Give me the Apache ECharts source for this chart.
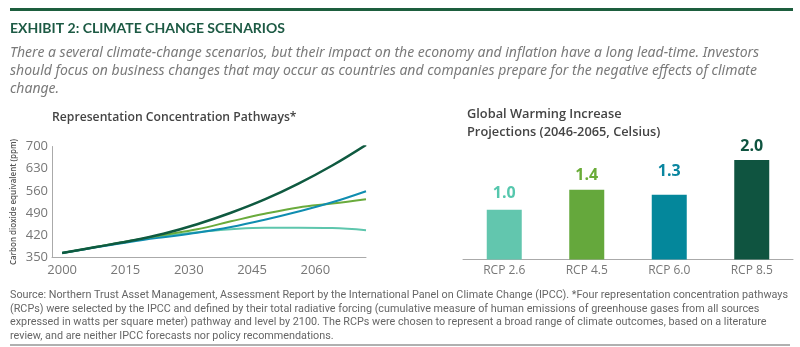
<!DOCTYPE html>
<html>
<head>
<meta charset="utf-8">
<script src="https://cdn.jsdelivr.net/npm/echarts@6/dist/echarts.min.js"></script>
<style>
  html, body { margin: 0; padding: 0; background: #fff; }
  #chart { width: 800px; height: 347px; }
</style>
</head>
<body>
<div id="chart"></div>
<script>
// Concentration pathways (ppm CO2-equivalent), sampled every 8 years
const years = [2000, 2008, 2016, 2024, 2032, 2040, 2048, 2056, 2064, 2072];
const rcp26 = [364, 383, 402, 418, 430, 439, 444, 444, 443, 436];
const rcp45 = [364, 383, 402, 421, 439, 464, 488, 508, 520, 534];
const rcp60 = [364, 382, 399, 414, 428, 446, 469, 495, 524, 559];
const rcp85 = [364, 383, 402, 425, 455, 491, 533, 583, 640, 705];
const yearTicks = [2000, 2015, 2030, 2045, 2060];

// Warming projections 2046-2065 (deg C)
const scenarios = ['RCP 2.6', 'RCP 4.5', 'RCP 6.0', 'RCP 8.5'];
const warming = [1.0, 1.4, 1.3, 2.0];

const colors = {
  rcp26: '#5ec6ad',
  rcp45: '#6aab3c',
  rcp60: '#0f8db0',
  rcp85: '#0f5a40'
};
const barColors = ['#62c6ae', '#65a83c', '#04879b', '#0f5440'];
const labelColors = ['#55c7ad', '#6aac38', '#0a86a0', '#0f5440'];
const labelOffsets = [[0, -2], [0, 0], [0, -9], [0, 0]];

const pair = (vals) => years.map((y, i) => [y, vals[i]]);

const chart = echarts.init(document.getElementById('chart'), null, { renderer: 'canvas' });

const subtitle = [
  'There a several climate-change scenarios, but their impact on the economy and inflation have a long lead-time. Investors',
  'should focus on business changes that may occur as countries and companies prepare for the negative effects of climate',
  'change.'
];
const footnote = [
  'Source: Northern Trust Asset Management, Assessment Report by the International Panel on Climate Change (IPCC). *Four representation concentration pathways',
  '(RCPs) were selected by the IPCC and defined by their total radiative forcing (cumulative measure of human emissions of greenhouse gases from all sources',
  'expressed in watts per square meter) pathway and level by 2100. The RCPs were chosen to represent a broad range of climate outcomes, based on a literature',
  'review, and are neither IPCC forecasts nor policy recommendations.'
];

const graphics = [
  { type: 'rect', shape: { x: 10, y: 8, width: 783, height: 3 }, style: { fill: '#1d5e3e' } },
  { type: 'text', left: 10, top: 21, style: { text: 'EXHIBIT 2: CLIMATE CHANGE SCENARIOS', fill: '#1d5a44', font: 'bold 14px Lato, "Open Sans", sans-serif' } },
  { type: 'rect', shape: { x: 10, y: 344, width: 780, height: 2 }, style: { fill: '#b0b0b0' } }
];
subtitle.forEach((t, i) => graphics.push({
  type: 'text', left: 10, top: 46 + i * 18,
  style: { text: t, fill: '#7a7a7a', font: 'italic 14px "Noto Sans", sans-serif' }
}));
footnote.forEach((t, i) => graphics.push({
  type: 'text', left: 10, top: 290 + i * 13.5,
  style: { text: t, fill: '#666', font: '10.8px Roboto, sans-serif' }
}));

const lineSeries = (name, vals, color, width) => ({
  name, type: 'line', xAxisIndex: 0, yAxisIndex: 0,
  data: pair(vals), smooth: 0.4, symbol: 'none',
  lineStyle: { color, width }
});

chart.setOption({
  animation: false,
  backgroundColor: '#fff',
  title: [
    { text: 'Representation Concentration Pathways*', left: 47, top: 107,
      textStyle: { fontFamily: '"Open Sans", sans-serif', fontSize: 12.2, fontWeight: 600, color: '#444' } },
    { text: 'Global Warming Increase\nProjections (2046-2065, Celsius)', left: 462, top: 100,
      textStyle: { fontFamily: '"Open Sans", sans-serif', fontSize: 12.8, fontWeight: 600, color: '#444', lineHeight: 18 } }
  ],
  graphic: graphics,
  grid: [
    { left: 52, right: 434, top: 146.5, height: 111, containLabel: false },
    { left: 463, right: 7, top: 160, height: 99.5, containLabel: false }
  ],
  xAxis: [
    {
      type: 'value', gridIndex: 0, min: 1997.6, max: 2072,
      axisLine: { show: true, lineStyle: { color: '#aaa', width: 1 } },
      axisTick: { show: false },
      splitLine: { show: false },
      axisLabel: { customValues: yearTicks, color: '#777', fontSize: 13, margin: 6,
        fontFamily: '"Open Sans", sans-serif', formatter: (v) => String(v) }
    },
    {
      type: 'category', gridIndex: 1, data: scenarios,
      axisLine: { show: true, lineStyle: { color: '#aaa', width: 1 } },
      axisTick: { show: false },
      axisLabel: { color: '#777', fontSize: 12, margin: 5, fontFamily: '"Open Sans", sans-serif' }
    }
  ],
  yAxis: [
    {
      type: 'value', gridIndex: 0, min: 350, max: 700, interval: 70,
      name: 'Carbon dioxide equivalent (ppm)', nameLocation: 'middle', nameGap: 34, nameRotate: 90,
      nameTextStyle: { fontSize: 8, color: '#555', fontWeight: 600, fontFamily: '"Open Sans", sans-serif' },
      axisLine: { show: true, lineStyle: { color: '#aaa', width: 1 } },
      axisTick: { show: false },
      splitLine: { show: false },
      axisLabel: { color: '#777', fontSize: 13, margin: 4, fontFamily: '"Open Sans", sans-serif' }
    },
    {
      type: 'value', gridIndex: 1, min: 0, max: 2.0,
      show: false, splitLine: { show: false }
    }
  ],
  series: [
    lineSeries('RCP 2.6', rcp26, colors.rcp26, 2),
    lineSeries('RCP 4.5', rcp45, colors.rcp45, 2),
    lineSeries('RCP 6.0', rcp60, colors.rcp60, 2),
    lineSeries('RCP 8.5', rcp85, colors.rcp85, 2.5),
    {
      type: 'bar', xAxisIndex: 1, yAxisIndex: 1, barWidth: 35,
      data: warming.map((v, i) => ({
        value: v,
        itemStyle: { color: barColors[i] },
        label: { color: labelColors[i], offset: labelOffsets[i] }
      })),
      label: {
        show: true, position: 'top', distance: 6,
        fontSize: 16, fontWeight: 'bold', fontFamily: '"Open Sans", sans-serif',
        formatter: (p) => p.value.toFixed(1)
      }
    }
  ]
});
</script>
</body>
</html>
